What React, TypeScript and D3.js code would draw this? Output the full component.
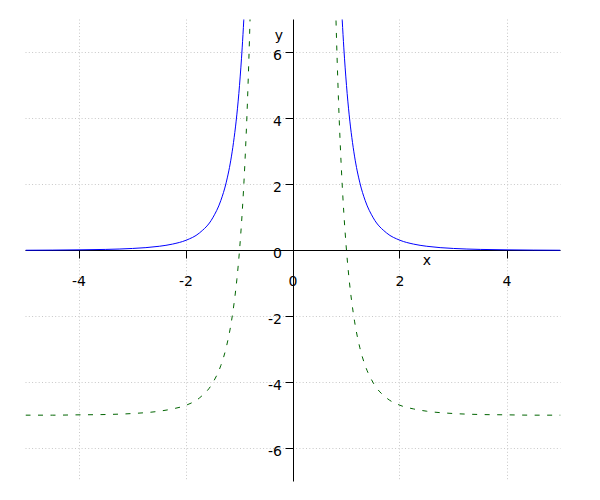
import React from "react";
import * as d3 from "d3";

const W = 600;
const H = 500;

// Axis ticks
const xTicks = [-4, -2, 0, 2, 4];
const yTicks = [-6, -4, -2, 0, 2, 4, 6];
const xGrid = [-4, -2, 2, 4];
const yGrid = [-6, -4, -2, 2, 4, 6];

// Blue (solid) curve, left branch
const blueLeftX = [-5, -4.5, -4, -3.5, -3, -2.5, -2.25, -2, -1.75, -1.5, -1.35, -1.25, -1.15, -1.1, -1.05, -1, -0.95, -0.92, -0.9];
const blueLeftY = [0.008, 0.012, 0.02, 0.033, 0.062, 0.128, 0.195, 0.31, 0.53, 0.99, 1.51, 2.05, 2.86, 3.42, 4.11, 5.0, 6.14, 6.98, 7.62];
// Blue (solid) curve, right branch
const blueRightX = [0.9, 0.92, 0.95, 1, 1.05, 1.1, 1.15, 1.25, 1.35, 1.5, 1.75, 2, 2.25, 2.5, 3, 3.5, 4, 4.5, 5];
const blueRightY = [7.62, 6.98, 6.14, 5.0, 4.11, 3.42, 2.86, 2.05, 1.51, 0.99, 0.53, 0.31, 0.195, 0.128, 0.062, 0.033, 0.02, 0.012, 0.008];

// Green (dashed) curve, left branch
const greenLeftX = [-5, -4.5, -4, -3.5, -3, -2.5, -2.25, -2, -1.75, -1.5, -1.35, -1.25, -1.15, -1.1, -1.05, -1, -0.95, -0.9, -0.85, -0.8, -0.78];
const greenLeftY = [-4.99, -4.99, -4.98, -4.97, -4.94, -4.87, -4.8, -4.69, -4.47, -4.01, -3.49, -2.95, -2.14, -1.58, -0.89, 0, 1.14, 2.62, 4.57, 7.2, 8.49];
// Green (dashed) curve, right branch
const greenRightX = [0.78, 0.8, 0.85, 0.9, 0.95, 1, 1.05, 1.1, 1.15, 1.25, 1.35, 1.5, 1.75, 2, 2.25, 2.5, 3, 3.5, 4, 4.5, 5];
const greenRightY = [8.49, 7.2, 4.57, 2.62, 1.14, 0, -0.89, -1.58, -2.14, -2.95, -3.49, -4.01, -4.47, -4.69, -4.8, -4.87, -4.94, -4.97, -4.98, -4.99, -4.99];

const FONT = "DejaVu Sans, sans-serif";

export default function App() {
  const x = d3.scaleLinear().domain([-5, 5]).range([25.5, 560.5]);
  const y = d3.scaleLinear().domain([-7, 7]).range([481.5, 19.5]);

  const line = d3
    .line<[number, number]>()
    .x((d) => x(d[0]))
    .y((d) => y(d[1]))
    .curve(d3.curveMonotoneX);

  const zip = (xs: number[], ys: number[]) => xs.map((v, i) => [v, ys[i]] as [number, number]);
  const px = (v: number) => Math.floor(v) + 0.5;

  const x0 = x(0);
  const y0 = y(0);

  return (
    <svg
      width={W}
      height={H}
      style={{ position: "absolute", left: 0, top: 0, background: "#fff" }}
      fontFamily={FONT}
    >
      <defs>
        <clipPath id="plot">
          <rect x={x(-5)} y={y(7)} width={x(5) - x(-5)} height={y(-7) - y(7)} />
        </clipPath>
      </defs>
      <rect width={W} height={H} fill="#fff" />
      {/* grid */}
      <g stroke="#c8c8c8" strokeWidth={1} strokeDasharray="1,2.3">
        {xGrid.map((t) => (
          <line key={"gx" + t} x1={px(x(t))} x2={px(x(t))} y1={y(7)} y2={y(-7)} />
        ))}
        {yGrid.map((t) => (
          <line key={"gy" + t} x1={x(-5)} x2={x(5)} y1={px(y(t))} y2={px(y(t))} />
        ))}
      </g>
      {/* axes */}
      <g stroke="#000" strokeWidth={1}>
        <line x1={x(-5)} x2={x(5)} y1={px(y0)} y2={px(y0)} />
        <line x1={px(x0)} x2={px(x0)} y1={y(7)} y2={y(-7)} />
        {xTicks.filter((t) => t !== 0).map((t) => (
          <line key={"tx" + t} x1={px(x(t))} x2={px(x(t))} y1={px(y0)} y2={px(y0) + 8} />
        ))}
        {yTicks.filter((t) => t !== 0).map((t) => (
          <line key={"ty" + t} x1={px(x0) - 8} x2={px(x0)} y1={px(y(t))} y2={px(y(t))} />
        ))}
      </g>
      {/* tick labels */}
      <g fontSize={14} fill="#000">
        {xTicks.map((t) => (
          <text key={"lx" + t} x={x(t)} y={y0 + 35} textAnchor="middle">
            {t}
          </text>
        ))}
        {yTicks.map((t) => (
          <text key={"ly" + t} x={x0 - 11} y={y(t) + 7} textAnchor="end">
            {t}
          </text>
        ))}
        <text x={427} y={265} textAnchor="middle">x</text>
        <text x={279} y={40} textAnchor="middle">y</text>
      </g>
      {/* curves */}
      <g clipPath="url(#plot)" fill="none">
        <path d={line(zip(blueLeftX, blueLeftY)) || ""} stroke="#0000ff" strokeWidth={1} />
        <path d={line(zip(blueRightX, blueRightY)) || ""} stroke="#0000ff" strokeWidth={1} />
        <path d={line(zip(greenLeftX, greenLeftY)) || ""} stroke="#006400" strokeWidth={1} strokeDasharray="5,7.5" />
        <path d={line(zip(greenRightX, greenRightY)) || ""} stroke="#006400" strokeWidth={1} strokeDasharray="5,7.5" />
      </g>
    </svg>
  );
}
